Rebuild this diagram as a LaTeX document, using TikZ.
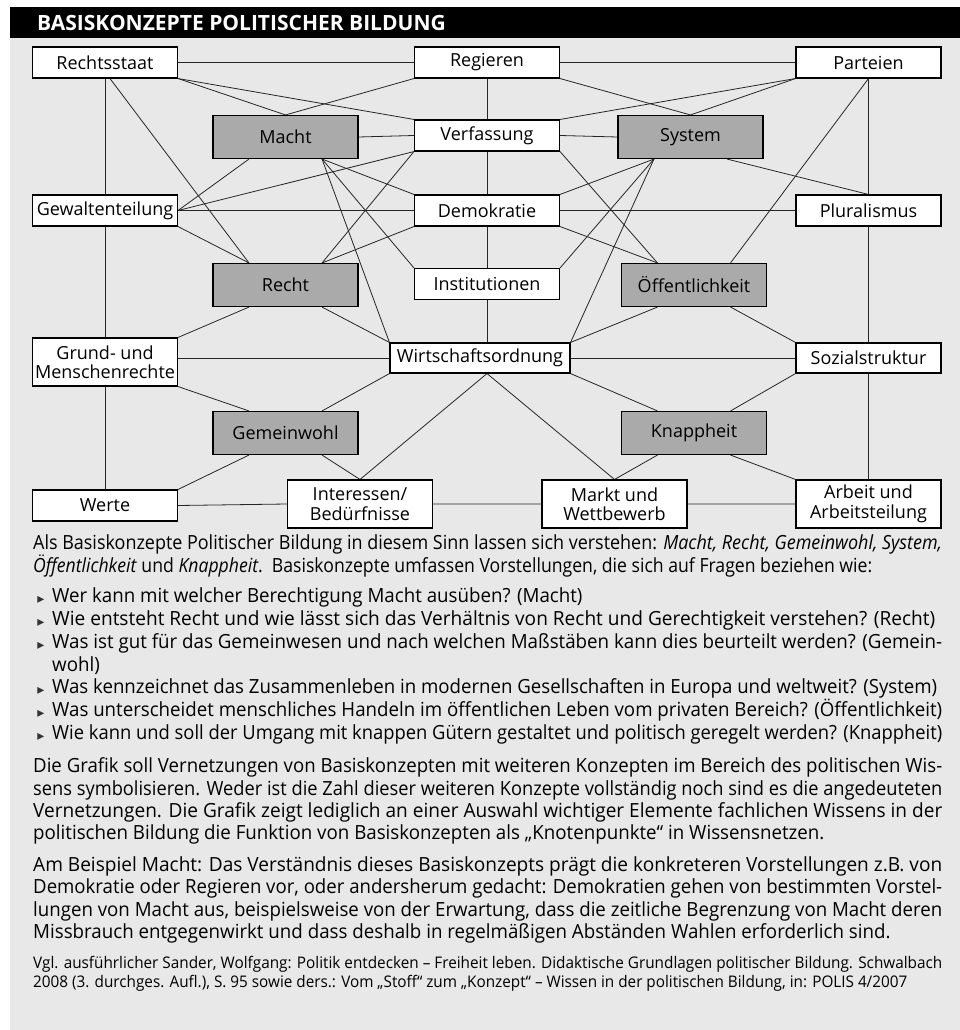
\documentclass[tikz,border=0pt]{standalone}
\usepackage{fontspec}
\usepackage{graphicx}
\setmainfont{Open Sans}
\newfontfamily\labelfont{Open Sans}
\newfontfamily\bodyfont[FakeStretch=0.96]{Open Sans}
\newfontfamily\reffont[FakeStretch=0.95]{Open Sans}
\newfontfamily\symfont{DejaVu Sans}
\usetikzlibrary{calc}
\pgfdeclarelayer{back}
\pgfdeclarelayer{lines}
\pgfsetlayers{back,lines,main}
\definecolor{panelgray}{RGB}{232,232,232}
\definecolor{basisgray}{RGB}{170,170,170}
\newsavebox\fitbox
\newcommand\fitline[2]{\sbox\fitbox{#2}\pgfmathsetmacro\fitratio{#1/\the\wd\fitbox}\scalebox{\fitratio}[1]{\usebox\fitbox}}
\tikzset{
  concept/.style={draw=black, line width=1.1pt, fill=white, minimum width=145pt,
    minimum height=31pt, inner sep=0pt, align=center,
    font=\labelfont\fontsize{18}{19.5}\selectfont},
  basis/.style={concept, fill=basisgray, minimum height=43pt},
  twoline/.style={minimum height=48pt},
  link/.style={draw=black!85, line width=0.8pt},
  bodyline/.style={anchor=mid west, inner sep=0pt, font=\bodyfont\fontsize{19.5}{21}\selectfont},
  refline/.style={anchor=mid west, inner sep=0pt, font=\reffont\fontsize{16}{18}\selectfont},
  bullet/.style={anchor=center, inner sep=0pt, text=black!80, font=\symfont\fontsize{14}{14}\selectfont},
}
\begin{document}
\begin{tikzpicture}[x=1pt,y=-1pt]
\useasboundingbox (0,0) rectangle (960,1030);
\begin{pgfonlayer}{back}
  \fill[white] (0,0) rectangle (960,1030);
  \fill[panelgray] (10,38) rectangle (960,1030);
  \fill[black] (10,7) rectangle (960,38);
\end{pgfonlayer}
\node[anchor=west, text=white, inner sep=0pt, font=\labelfont\bfseries\fontsize{21}{22}\selectfont] (title) at (37,23) {BASISKONZEPTE POLITISCHER BILDUNG};

% concept boxes
\node[concept] (rs) at (105,62.5) {Rechtsstaat};
\node[concept] (rg) at (487,62.5) {Regieren};
\node[concept] (pt) at (868.5,62.5) {Parteien};
\node[basis]   (ma) at (285.5,137) {Macht};
\node[concept] (vf) at (487,135.5) {Verfassung};
\node[basis]   (sy) at (690.5,137) {System};
\node[concept] (gw) at (105,210.5) {Gewaltenteilung};
\node[concept] (dk) at (487,210.5) {Demokratie};
\node[concept] (pl) at (868.5,210.5) {Pluralismus};
\node[basis]   (re) at (285.5,285) {Recht};
\node[concept] (in) at (487,284) {Institutionen};
\node[basis]   (oe) at (694,285) {Öffentlichkeit};
\node[concept,twoline] (gr) at (105,362) {Grund- und\\Menschenrechte};
\node[concept,minimum width=180pt,minimum height=30pt] (wo) at (480,358) {Wirtschaftsordnung};
\node[concept,minimum height=30pt] (so) at (868.5,358) {Sozialstruktur};
\node[basis]   (ge) at (285.5,433) {Gemeinwohl};
\node[basis]   (kn) at (694,433) {Knappheit};
\node[concept] (we) at (105,505.5) {Werte};
\node[concept,twoline] (ib) at (360,504) {Interessen/\\Bedürfnisse};
\node[concept,twoline] (mw) at (614.5,504) {Markt und\\Wettbewerb};
\node[concept,twoline] (aa) at (868.5,504) {Arbeit und\\Arbeitsteilung};

\foreach \n in {ma,sy,re,oe,ge,kn}{
  \coordinate (\n-tl) at ($(\n.north west)!0.25!(\n.north east)$);
  \coordinate (\n-tr) at ($(\n.north west)!0.75!(\n.north east)$);
  \coordinate (\n-bl) at ($(\n.south west)!0.25!(\n.south east)$);
  \coordinate (\n-br) at ($(\n.south west)!0.75!(\n.south east)$);
}
\coordinate (wo-t) at (in.south |- wo.north);
\coordinate (wo-b) at (in.south |- wo.south);
\coordinate (gr-w) at (wo.west -| gr.east);
\coordinate (rs-d) at ([xshift=5pt]rs.south);

\begin{pgfonlayer}{lines}
  % horizontals
  \draw[link] (rs.east) -- (rg.west) (rg.east) -- (pt.west);
  \draw[link] (ma.east) -- (vf.west) (vf.east) -- (sy.west);
  \draw[link] (gw.east) -- (dk.west) (dk.east) -- (pl.west);
  \draw[link] (gr-w) -- (wo.west) (wo.east) -- (so.west);
  \draw[link] (we.east) -- (ib.west) (ib.east) -- (mw.west) (mw.east) -- (aa.west);
  % verticals
  \draw[link] (rs.south) -- (gw.north) (gw.south) -- (gr.north) (gr.south) -- (we.north);
  \draw[link] (rg.south) -- (vf.north) (vf.south) -- (dk.north) (dk.south) -- (in.north) (in.south) -- (wo-t);
  \draw[link] (pt.south) -- (pl.north) (pl.south) -- (so.north) (so.south) -- (aa.north);
  % diagonals top
  \draw[link] (rs.south east) -- (ma.north);
  \draw[link] (rs.south east) -- (vf.north west);
  \draw[link] (rg.south west) -- (ma.north);
  \draw[link] (rg.south east) -- (sy.north);
  \draw[link] (pt.south west) -- (vf.north east);
  \draw[link] (pt.south west) -- (sy.north);
  \draw[link] (rs-d) -- (re-tl);
  \draw[link] (pt.south) -- (oe-tr);
  % middle
  \draw[link] (ma-bl) -- (gw.east);
  \draw[link] (vf.south west) -- (gw.east);
  \draw[link] (gw.south east) -- (re-tl);
  \draw[link] (ma-br) -- (dk.north west);
  \draw[link] (ma-br) -- (in.north west);
  \draw[link] (ma-br) -- (wo.north west);
  \draw[link] (vf.south west) -- (re-tr);
  \draw[link] (dk.south west) -- (re-tr);
  \draw[link] (sy-bl) -- (dk.north east);
  \draw[link] (sy-bl) -- (in.north east);
  \draw[link] (sy-bl) -- (wo.north east);
  \draw[link] (vf.south east) -- (oe-tl);
  \draw[link] (dk.south east) -- (oe-tl);
  \draw[link] (sy-br) -- (pl.north);
  \draw[link] (re-bl) -- (gr.north east);
  \draw[link] (re-br) -- (wo.north west);
  \draw[link] (oe-bl) -- (wo.north east);
  \draw[link] (oe-br) -- (so.north west);
  % lower
  \draw[link] (gr.south east) -- (ge-tl);
  \draw[link] (wo.south west) -- (ge-tr);
  \draw[link] (wo.south east) -- (kn-tl);
  \draw[link] (so.south west) -- (kn-tr);
  \draw[link] (ge-bl) -- (we.north east);
  \draw[link] (ge-br) -- (ib.north);
  \draw[link] (wo-b) -- (ib.north);
  \draw[link] (wo-b) -- (mw.north);
  \draw[link] (kn-bl) -- (mw.north);
  \draw[link] (kn-br) -- (aa.north west);
\end{pgfonlayer}

% text
\node[bodyline] (t1) at (33,547) {\fitline{909}{Als Basiskonzepte Politischer Bildung in diesem Sinn lassen sich verstehen: \textit{Macht, Recht, Gemeinwohl, System,}}};
\node[bodyline] (t2) at (33,570) {\fitline{839}{\textit{Öffentlichkeit} und \textit{Knappheit}.\ \ Basiskonzepte umfassen Vorstellungen, die sich auf Fragen beziehen wie:}};

\node[bullet] (b1) at (41,600) {▸};
\node[bodyline] (u1) at (52,600) {Wer kann mit welcher Berechtigung Macht ausüben? (Macht)};
\node[bullet] (b2) at (41,623) {▸};
\node[bodyline] (u2) at (52,623) {\fitline{883}{Wie entsteht Recht und wie lässt sich das Verhältnis von Recht und Gerechtigkeit verstehen? (Recht)}};
\node[bullet] (b3) at (41,646) {▸};
\node[bodyline] (u3) at (52,646) {\fitline{890}{Was ist gut für das Gemeinwesen und nach welchen Maßstäben kann dies beurteilt werden? (Gemein-}};
\node[bodyline] (u3b) at (52,669) {wohl)};
\node[bullet] (b4) at (41,691) {▸};
\node[bodyline] (u4) at (52,691) {\fitline{885}{Was kennzeichnet das Zusammenleben in modernen Gesellschaften in Europa und weltweit? (System)}};
\node[bullet] (b5) at (41,714) {▸};
\node[bodyline] (u5) at (52,714) {\fitline{890}{Was unterscheidet menschliches Handeln im öffentlichen Leben vom privaten Bereich? (Öffentlichkeit)}};
\node[bullet] (b6) at (41,737) {▸};
\node[bodyline] (u6) at (52,737) {\fitline{890}{Wie kann und soll der Umgang mit knappen Gütern gestaltet und politisch geregelt werden? (Knappheit)}};

\node[bodyline] (g1) at (33,770) {\fitline{909}{Die Grafik soll Vernetzungen von Basiskonzepten mit weiteren Konzepten im Bereich des politischen Wis-}};
\node[bodyline] (g2) at (33,793) {\fitline{909}{sens symbolisieren. Weder ist die Zahl dieser weiteren Konzepte vollständig noch sind es die angedeuteten}};
\node[bodyline] (g3) at (33,815) {\fitline{909}{Vernetzungen. Die Grafik zeigt lediglich an einer Auswahl wichtiger Elemente fachlichen Wissens in der}};
\node[bodyline] (g4) at (33,837) {politischen Bildung die Funktion von Basiskonzepten als „Knotenpunkte“ in Wissensnetzen.};

\node[bodyline] (m1) at (33,869) {\fitline{909}{Am Beispiel Macht: Das Verständnis dieses Basiskonzepts prägt die konkreteren Vorstellungen z.B. von}};
\node[bodyline] (m2) at (33,891) {\fitline{909}{Demokratie oder Regieren vor, oder andersherum gedacht: Demokratien gehen von bestimmten Vorstel-}};
\node[bodyline] (m3) at (33,914) {\fitline{909}{lungen von Macht aus, beispielsweise von der Erwartung, dass die zeitliche Begrenzung von Macht deren}};
\node[bodyline] (m4) at (33,936) {Missbrauch entgegenwirkt und dass deshalb in regelmäßigen Abständen Wahlen erforderlich sind.};

\node[refline] (r1) at (33,966) {\fitline{909}{Vgl. ausführlicher Sander, Wolfgang: Politik entdecken – Freiheit leben. Didaktische Grundlagen politischer Bildung. Schwalbach}};
\node[refline] (r2) at (33,985) {\fitline{874}{2008 (3. durchges. Aufl.), S. 95 sowie ders.: Vom „Stoff“ zum „Konzept“ – Wissen in der politischen Bildung, in: POLIS 4/2007}};
\end{tikzpicture}
\end{document}
